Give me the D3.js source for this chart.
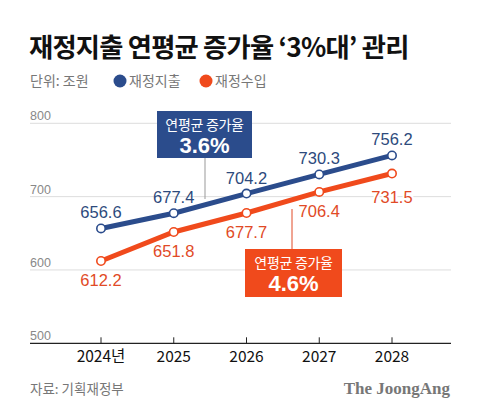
<!DOCTYPE html>
<html><head><meta charset="utf-8">
<script src="https://cdn.jsdelivr.net/npm/d3@7"></script>
<style>
body{margin:0;background:#fff;}
svg{display:block;font-family:"Liberation Sans",Arial,"Noto Sans CJK KR",sans-serif;}
</style></head>
<body><svg id="c" width="480" height="418"></svg>
<script>
const years = ["2024년","2025","2026","2027","2028"];
const spending = [656.6,677.4,704.2,730.3,756.2];
const revenue = [612.2,651.8,677.7,706.4,731.5];
const yTicks = [500,600,700,800];
const seriesNames = ["재정지출","재정수입"];
const growthRates = ["3.6%","4.6%"];

const BLUE="#2b4c8c", RED="#f04a1c", BLUE_T="#2d4a7c", RED_T="#e14a26";
const svg=d3.select("#c");
const KR='"Noto Sans CJK KR",sans-serif';

svg.append("text").attr("x",29).attr("y",57).attr("font-family",KR).attr("font-weight",700)
  .attr("font-size",26.3).attr("letter-spacing",-0.8).attr("fill","#111").text("재정지출 연평균 증가율 ‘3%대’ 관리");
svg.append("text").attr("x",30).attr("y",86).attr("font-family",KR).attr("font-size",14).attr("fill","#777").text("단위: 조원");
const leg=[[BLUE,120],[RED,206]];
leg.forEach((l,i)=>{
  svg.append("circle").attr("cx",l[1]).attr("cy",81).attr("r",6.5).attr("fill",l[0]);
  svg.append("text").attr("x",l[1]+9).attr("y",86).attr("font-family",KR).attr("font-size",14).attr("fill","#777").text(seriesNames[i]);
});

const x=d3.scalePoint().domain(years).range([101,392]);
const y=d3.scaleLinear().domain([500,800]).range([343.3,123.3]);

const g=svg.append("g");
yTicks.filter(t=>t>500).forEach(t=>{
  g.append("line").attr("x1",30).attr("x2",451).attr("y1",y(t)).attr("y2",y(t)).attr("stroke","#ddd").attr("stroke-width",1);
});
yTicks.forEach(t=>{
  g.append("text").attr("x",30).attr("y",y(t)-3).attr("font-size",12.5).attr("fill","#888").text(t);
});
g.append("line").attr("x1",30).attr("x2",451).attr("y1",y(500)).attr("y2",y(500)).attr("stroke","#222").attr("stroke-width",1.2);
years.forEach(yr=>{
  g.append("line").attr("x1",x(yr)).attr("x2",x(yr)).attr("y1",y(500)).attr("y2",y(500)-6).attr("stroke","#222").attr("stroke-width",1);
  g.append("text").attr("x",x(yr)).attr("y",362).attr("text-anchor","middle").attr("font-family",KR).attr("font-size",15.5).attr("fill","#111").text(yr);
});

g.append("line").attr("x1",205).attr("x2",205).attr("y1",158).attr("y2",199).attr("stroke","#999").attr("stroke-width",1);
g.append("line").attr("x1",292).attr("x2",292).attr("y1",209).attr("y2",249).attr("stroke",RED_T).attr("stroke-width",1);

const line=d3.line().x((d,i)=>x(years[i])).y(d=>y(d));
[[spending,BLUE],[revenue,RED]].forEach(([data,col])=>{
  g.append("path").attr("d",line(data)).attr("fill","none").attr("stroke",col).attr("stroke-width",5);
  data.forEach((d,i)=>g.append("circle").attr("cx",x(years[i])).attr("cy",y(d)).attr("r",4.2).attr("fill","#fff").attr("stroke",col).attr("stroke-width",1.6));
});
spending.forEach((d,i)=>{
  g.append("text").attr("x",x(years[i])).attr("y",y(d)-10).attr("text-anchor","middle").attr("font-size",16.5).attr("fill",BLUE_T).text(d.toFixed(1));
});
revenue.forEach((d,i)=>{
  const off = i===4?29:25;
  g.append("text").attr("x",x(years[i])).attr("y",y(d)+off).attr("text-anchor","middle").attr("font-size",16.5)
   .attr("fill",RED_T).attr("stroke","#fff").attr("stroke-width",4).attr("paint-order","stroke").text(d.toFixed(1));
});

function box(x0,y0,w,h,col,rate){
  g.append("rect").attr("x",x0).attr("y",y0).attr("width",w).attr("height",h).attr("fill",col);
  g.append("text").attr("x",x0+w/2).attr("y",y0+19).attr("text-anchor","middle").attr("font-family",KR).attr("font-size",14).attr("letter-spacing",-0.3).attr("fill","#fff").text("연평균 증가율");
  g.append("text").attr("x",x0+w/2).attr("y",y0+42).attr("text-anchor","middle").attr("font-weight",700).attr("font-size",22).attr("fill","#fff").text(rate);
}
box(157,111,95,47,BLUE,growthRates[0]);
box(245,249,97,48,RED,growthRates[1]);

svg.append("text").attr("x",30).attr("y",394).attr("font-family",KR).attr("font-size",13.5).attr("fill","#777").text("자료: 기획재정부");
svg.append("text").attr("x",450).attr("y",394).attr("text-anchor","end").attr("font-family","'Liberation Serif',serif").attr("font-weight",700).attr("font-size",17).attr("fill","#777").text("The JoongAng");
</script></body></html>
